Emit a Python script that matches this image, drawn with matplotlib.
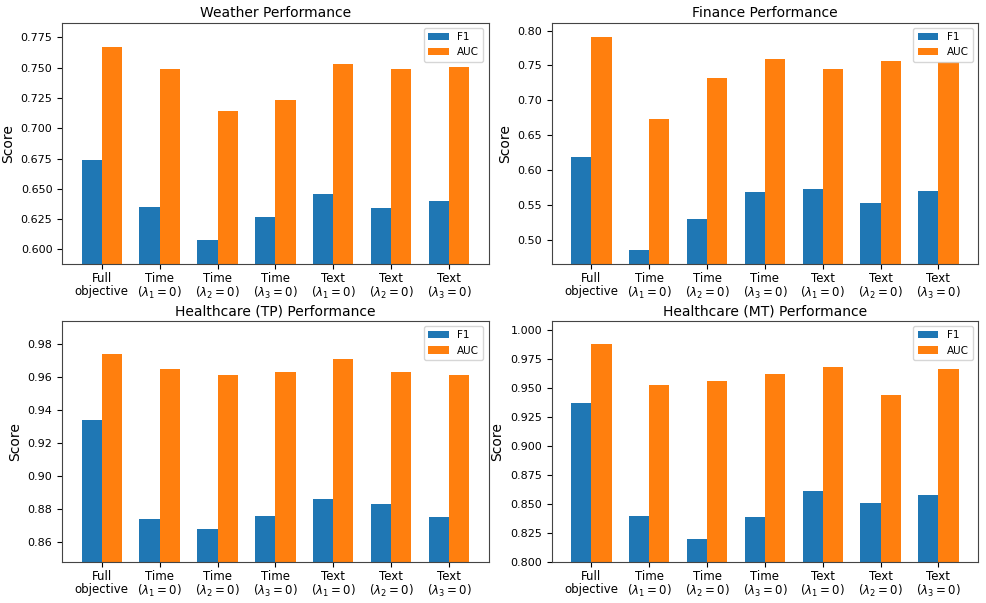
import numpy as np
import matplotlib
matplotlib.use("Agg")
import matplotlib.pyplot as plt

# --- data ---
variants = ["Full\nobjective",
            "Time\n($\\lambda_1=0$)", "Time\n($\\lambda_2=0$)", "Time\n($\\lambda_3=0$)",
            "Text\n($\\lambda_1=0$)", "Text\n($\\lambda_2=0$)", "Text\n($\\lambda_3=0$)"]

weather_f1 = [0.674, 0.635, 0.608, 0.627, 0.646, 0.634, 0.640]
weather_auc = [0.767, 0.749, 0.714, 0.723, 0.753, 0.749, 0.751]

finance_f1 = [0.619, 0.485, 0.529, 0.568, 0.573, 0.553, 0.569]
finance_auc = [0.791, 0.673, 0.732, 0.759, 0.745, 0.757, 0.755]

health_tp_f1 = [0.934, 0.874, 0.868, 0.876, 0.886, 0.883, 0.875]
health_tp_auc = [0.974, 0.965, 0.961, 0.963, 0.971, 0.963, 0.961]

health_mt_f1 = [0.937, 0.840, 0.820, 0.839, 0.861, 0.851, 0.858]
health_mt_auc = [0.988, 0.953, 0.956, 0.962, 0.968, 0.944, 0.967]

panels = [
    ("Weather Performance", weather_f1, weather_auc),
    ("Finance Performance", finance_f1, finance_auc),
    ("Healthcare (TP) Performance", health_tp_f1, health_tp_auc),
    ("Healthcare (MT) Performance", health_mt_f1, health_mt_auc),
]

fig, axes = plt.subplots(2, 2, figsize=(9.87, 6.03), dpi=100)
fig.subplots_adjust(left=0.063, right=0.991, top=0.962, bottom=0.068,
                    wspace=0.148, hspace=0.237)

x = np.arange(len(variants))
width = 0.35

for ax, (title, f1, auc) in zip(axes.flat, panels):
    ax.bar(x - width / 2, f1, width, label="F1", color="#1f77b4")
    ax.bar(x + width / 2, auc, width, label="AUC", color="#ff7f0e")
    ax.set_title(title, fontsize=10, pad=4)
    ax.set_ylabel("Score", fontsize=10)
    ax.set_xticks(x)
    ax.set_xticklabels(variants, fontsize=8.5, linespacing=1.0)
    ax.tick_params(axis="y", labelsize=8)
    ax.tick_params(axis="x", pad=2)
    for sp in ax.spines.values():
        sp.set_color("#444444")
    # y range: 0.02 padding around the data
    lo = min(min(f1), min(auc)) - 0.02
    hi = max(max(f1), max(auc)) + 0.02
    ax.set_ylim(lo, hi)
    ax.legend(loc="upper right", fontsize=7.5)

fig.savefig("out.png", dpi=100)
